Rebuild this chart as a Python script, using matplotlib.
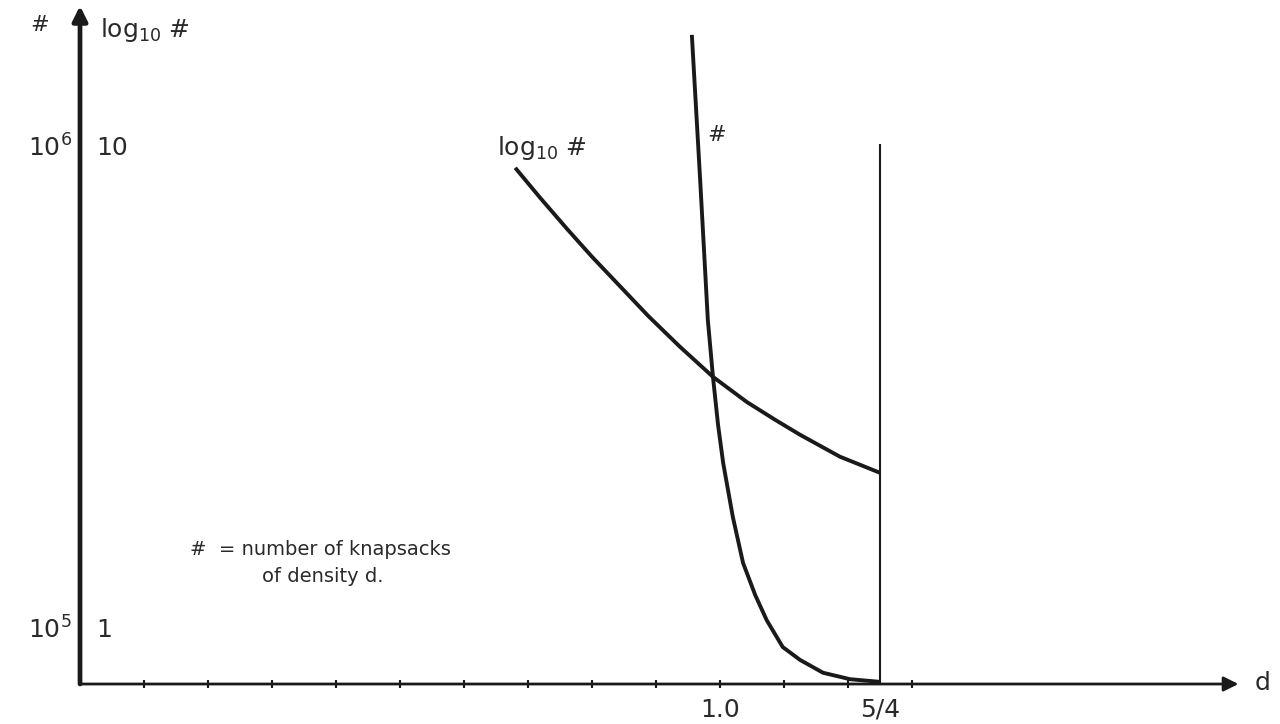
import numpy as np
import matplotlib
matplotlib.use('Agg')
import matplotlib.pyplot as plt

# density d and log10 of the number of knapsacks
d_log = [0.680, 0.719, 0.761, 0.800, 0.839, 0.8875, 0.9375, 0.989, 1.042, 1.086, 1.125, 1.1875, 1.25]
log_count = [9.63, 9.07, 8.49, 7.97, 7.48, 6.87, 6.29, 5.73, 5.26, 4.93, 4.65, 4.24, 3.94]

# density d and number of knapsacks (in units of 10^5)
d_num = [0.956, 0.969, 0.981, 0.989, 0.997, 1.005, 1.020, 1.036, 1.055, 1.073, 1.098,
         1.125, 1.161, 1.203, 1.25]
count = [12.11, 9.40, 6.79, 5.73, 4.83, 4.12, 3.12, 2.26, 1.66, 1.19, 0.69,
         0.45, 0.21, 0.09, 0.04]

x_ticks = [0.1, 0.2, 0.3, 0.4, 0.5, 0.6, 0.7, 0.8, 0.9, 1.0, 1.1, 1.2, 1.3]
x_labels = {1.0: '1.0', 1.25: '5/4'}
y_labels_left = {10: r'$10^6$', 1: r'$10^5$'}
y_labels_right = {10: '10', 1: '1'}
d_limit = 1.25
limit_top = 10.06

plt.rcParams['mathtext.fontset'] = 'dejavusans'
ink = '#1a1a1a'
txt = '#2a2a2a'

fig = plt.figure(figsize=(12.8, 7.24), dpi=100)
ax = fig.add_axes([0, 0, 1, 1])
ax.set_xlim(-0.125, 1.875)
ax.set_ylim(-0.746, 12.76)
ax.axis('off')

# axes drawn by hand, plotter style
ax.annotate('', xy=(1.81, 0), xytext=(0, 0),
            arrowprops=dict(arrowstyle='-|>', color=ink, lw=2.0, mutation_scale=22, shrinkA=0, shrinkB=0))
ax.annotate('', xy=(0, 12.65), xytext=(0, 0),
            arrowprops=dict(arrowstyle='-|>', color=ink, lw=3.4, mutation_scale=22, shrinkA=0, shrinkB=0))
ax.plot(x_ticks, np.zeros(len(x_ticks)), '|', color=ink, ms=6, mew=1.5)

# curves
ax.plot(d_log, log_count, color=ink, lw=2.8, solid_capstyle='butt', solid_joinstyle='round')
ax.plot(d_num, count, color=ink, lw=2.8, solid_capstyle='butt', solid_joinstyle='round')
ax.plot([d_limit, d_limit], [0, limit_top], color=ink, lw=1.5)

# labels
fs = 18
for v, s in x_labels.items():
    ax.text(v, -0.48, s, ha='center', va='center', fontsize=fs, color=txt)
for v, s in y_labels_left.items():
    ax.text(-0.013, v, s, ha='right', va='center', fontsize=fs, color=txt)
for v, s in y_labels_right.items():
    ax.text(0.025, v, s, ha='left', va='center', fontsize=fs, color=txt)

ax.text(-0.0625, 12.3, '#', ha='center', va='center', fontsize=16, color=txt)
ax.text(0.031, 12.2, r'$\mathrm{log}_{10}\;\#$', ha='left', va='center', fontsize=fs, color=txt)
ax.text(0.652, 10.0, r'$\mathrm{log}_{10}\;\#$', ha='left', va='center', fontsize=fs, color=txt)
ax.text(0.995, 10.25, '#', ha='center', va='center', fontsize=16, color=txt)
ax.text(1.835, 0.02, 'd', ha='left', va='center', fontsize=fs, color=txt)

ax.text(0.172, 2.50, '#  = number of knapsacks', ha='left', va='center', fontsize=14, color=txt)
ax.text(0.284, 2.00, 'of density d.', ha='left', va='center', fontsize=14, color=txt)

fig.savefig('out.png', dpi=100, facecolor='white')
